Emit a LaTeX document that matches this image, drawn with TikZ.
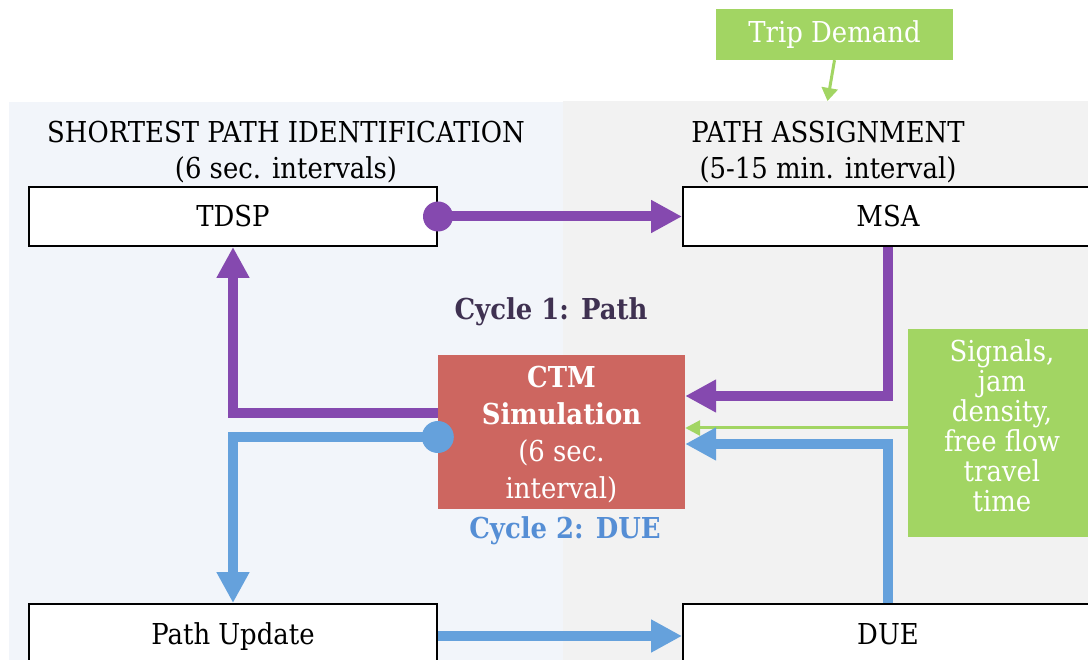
\documentclass[tikz,border=0pt]{standalone}
\usepackage{fontspec}
\setmainfont{DejaVu Serif}[FakeStretch=0.9]
\usetikzlibrary{arrows.meta}
\definecolor{purpleC}{HTML}{8549AF}
\definecolor{blueC}{HTML}{65A1DC}
\definecolor{greenC}{HTML}{A2D563}
\definecolor{redC}{HTML}{CD6660}
\definecolor{cycA}{HTML}{3F3151}
\definecolor{cycB}{HTML}{558ED5}
\definecolor{leftbg}{HTML}{F2F5FA}
\definecolor{rightbg}{HTML}{F2F2F2}
\newcommand\dfont{\fontsize{28.8pt}{36pt}\selectfont}
\tikzset{
  wbox/.style={draw=black, line width=2pt, fill=white, minimum width=408pt, minimum height=59pt, inner sep=0pt, font=\dfont},
  lowbox/.style={wbox, minimum height=64pt, text height=22pt, text depth=6pt},
  head/.style={align=center, anchor=north, inner sep=0pt, font=\dfont},
  thickarrow/.style={line width=10pt, -{Triangle[length=31pt,width=31pt]}},
  thinarrow/.style={line width=3pt, draw=greenC, -{Triangle[length=15pt,width=15pt]}},
}
\begin{document}
\begin{tikzpicture}[x=1pt,y=-1pt]
\useasboundingbox (0,0) rectangle (1088,660);
\clip (0,0) rectangle (1088,660);
\fill[white] (0,0) rectangle (1088,660);
% panels
\fill[leftbg] (9,102) rectangle (563,660);
\fill[rightbg] (563,101) rectangle (1088,660);

% headings
\node[head] (h1) at (286,121) {SHORTEST PATH IDENTIFICATION\\(6 sec. intervals)};
\node[head] (h2) at (828,121) {PATH ASSIGNMENT\\(5-15 min. interval)};

% trip demand
\node[fill=greenC, text=white, minimum width=237pt, minimum height=51pt, inner sep=0pt, font=\dfont] (trip) at (834.5,34.5) {Trip Demand};
\coordinate (tripend) at (827.5,101);
\draw[thinarrow, -{Triangle[length=13pt,width=16pt]}] (trip.south) -- (tripend);

% boxes
\node[wbox] (tdsp) at (233,216.5) {TDSP};
\node[wbox, minimum width=410pt] (msa) at (888,216.5) {MSA};
\node[lowbox] (pu) at (233,636) {Path Update};
\node[lowbox, minimum width=410pt] (due) at (888,636) {DUE};

% CTM
\node[fill=redC, text=white, minimum width=247pt, minimum height=154pt, inner sep=0pt, align=center,
      font=\fontsize{28.8pt}{37pt}\selectfont] (ctm) at (561.5,432)
  {\rule{0pt}{27pt}\textbf{CTM}\\\textbf{Simulation}\\(6 sec.\\interval)};

% signals
\node[fill=greenC, text=white, minimum width=188pt, minimum height=208pt, inner sep=0pt, align=center,
      font=\fontsize{28.8pt}{30pt}\selectfont] (sig) at (1002,433)
  {Signals,\\jam\\density,\\free flow\\travel\\time\rule[-14pt]{0pt}{0pt}};

% cycle labels
\node[anchor=base, font=\dfont\bfseries, text=cycA, inner sep=0pt] (c1) at (551,320) {Cycle 1: Path};
\node[anchor=base, font=\dfont\bfseries, text=cycB, inner sep=0pt] (c2) at (565,538) {Cycle 2: DUE};

% purple cycle
\draw[thickarrow, draw=purpleC] (tdsp.east) -- (msa.west);
\fill[purpleC] (tdsp.east) circle (15pt);
\draw[thickarrow, draw=purpleC] (msa.south) |- (ctm.east |- 0,396);
\draw[thickarrow, draw=purpleC] (ctm.west |- 0,413) -| (tdsp.south);

% green input
\draw[thinarrow] (sig.west |- 0,428) -- (ctm.east |- 0,428);

% blue cycle
\draw[thickarrow, draw=blueC] (ctm.west |- 0,437) -| (pu.north);
\fill[blueC] (ctm.west |- 0,437) circle (16pt);
\draw[thickarrow, draw=blueC] (pu.east) -- (due.west);
\draw[thickarrow, draw=blueC] (due.north) |- (ctm.east |- 0,444);
\end{tikzpicture}
\end{document}
